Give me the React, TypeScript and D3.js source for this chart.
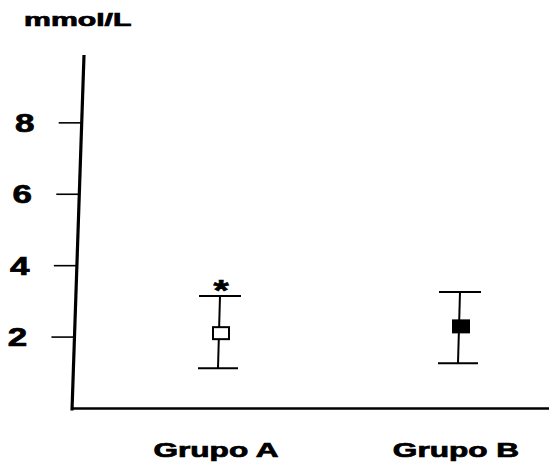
import React from "react";
import * as d3 from "d3";

const categories = ["Grupo A", "Grupo B"];
const means = [2.11, 2.3];
const upper = [3.15, 3.26];
const lower = [1.13, 1.27];
const filled = [false, true];
const significance = ["*", ""];
const yTicks = [2, 4, 6, 8];
const yLabel = "mmol/L";

const W = 549;
const H = 467;

export default function App() {
  const y = d3.scaleLinear().domain([0, 9.9]).range([408.5, 55]);
  // slight lean of the hand-drawn y axis
  const lean = d3.scaleLinear().domain([0, 9.9]).range([72, 84]);
  const x = d3.scalePoint<string>().domain(categories).range([220, 460]).padding(0);
  const font = "Arial, 'Liberation Sans', Helvetica, sans-serif";
  const half = 8;
  const heavy = { stroke: "#000", strokeWidth: 0.7 };

  return (
    <svg
      width={W}
      height={H}
      style={{ position: "absolute", left: 0, top: 0, background: "#fff" }}
      fontFamily={font}
    >
      <rect x={0} y={0} width={W} height={H} fill="#fff" />
      {/* y label */}
      <text transform="translate(24,26) scale(1.68,1)" fontSize={18} fontWeight="bold" fill="#000" {...heavy}>
        {yLabel}
      </text>
      {/* y axis */}
      <line x1={lean(9.9)} y1={y(9.9)} x2={lean(0)} y2={y(0) + 2} stroke="#000" strokeWidth={3.2} />
      {/* x axis */}
      <line x1={lean(0) - 1} y1={y(0)} x2={W} y2={y(0)} stroke="#000" strokeWidth={2.6} />
      {yTicks.map((t) => {
        const ax = lean(t);
        return (
          <g key={t}>
            <line x1={ax - 23} y1={y(t)} x2={ax} y2={y(t)} stroke="#000" strokeWidth={1.6} />
            <text
              transform={`translate(${ax - 57},${y(t) + 9}) scale(1.4,1)`}
              fontSize={25}
              fontWeight="bold"
              textAnchor="middle"
              fill="#000"
              {...heavy}
            >
              {t}
            </text>
          </g>
        );
      })}
      {categories.map((c, i) => {
        const cx = x(c) as number;
        return (
          <g key={c}>
            <line x1={cx} y1={y(upper[i])} x2={cx - 2} y2={y(lower[i])} stroke="#000" strokeWidth={2} />
            <line x1={cx - 21} y1={y(upper[i])} x2={cx + 21} y2={y(upper[i])} stroke="#000" strokeWidth={2} />
            <line x1={cx - 22} y1={y(lower[i])} x2={cx + 18} y2={y(lower[i])} stroke="#000" strokeWidth={2} />
            <rect
              x={cx - half + 1}
              y={y(means[i]) - 6}
              width={16}
              height={12}
              fill={filled[i] ? "#000" : "#fff"}
              stroke="#000"
              strokeWidth={2}
            />
            {significance[i] && (
              <text
                transform={`translate(${cx + 1},${y(upper[i]) + 4}) scale(1.3,1)`}
                fontSize={30}
                fontWeight="bold"
                textAnchor="middle"
                fill="#000"
                {...heavy}
              >
                {significance[i]}
              </text>
            )}
            <text
              transform={`translate(${cx - 4},457) scale(1.62,1)`}
              fontSize={19.5}
              fontWeight="bold"
              textAnchor="middle"
              fill="#000"
              {...heavy}
            >
              {c}
            </text>
          </g>
        );
      })}
    </svg>
  );
}
